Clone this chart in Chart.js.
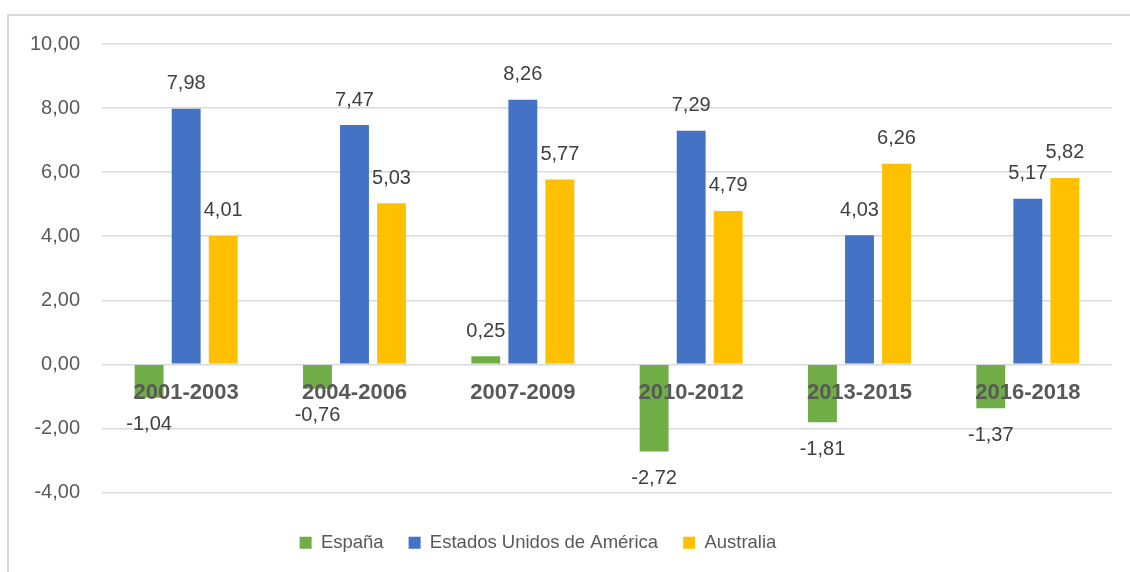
<!DOCTYPE html>
<html>
<head>
<meta charset="utf-8">
<title>Chart</title>
<script src="https://cdn.jsdelivr.net/npm/chart.js@4"></script>
<style>
    html, body { margin: 0; padding: 0; background: #fff; }
</style>
</head>
<body>
<canvas id="chart" width="1130" height="572"></canvas>
<script>
const periods = ['2001-2003', '2004-2006', '2007-2009', '2010-2012', '2013-2015', '2016-2018'];
const espana = [-1.04, -0.76, 0.25, -2.72, -1.81, -1.37];
const eeuu = [7.98, 7.47, 8.26, 7.29, 4.03, 5.17];
const australia = [4.01, 5.03, 5.77, 4.79, 6.26, 5.82];
const seriesNames = ['España', 'Estados Unidos de América', 'Australia'];
const yMin = -4;
const yMax = 10;
const yStep = 2;

const FONT = "'Liberation Sans', Arial, sans-serif";

function fmt(v) {
    return v.toFixed(2).replace('.', ',');
}

// light frame around the whole chart, legend nudged a bit left
const framePlugin = {
    id: 'frame',
    afterLayout(chart) {
        if (chart.legend) {
            chart.legend.left -= 18;
            chart.legend.right -= 18;
        }
    },
    beforeDraw(chart) {
        const ctx = chart.ctx;
        ctx.save();
        ctx.strokeStyle = '#d9d9d9';
        ctx.lineWidth = 2;
        ctx.strokeRect(8, 15, 1200, 700);
        ctx.restore();
    }
};

// value labels above / below each bar
const valueLabels = {
    id: 'valueLabels',
    afterDatasetsDraw(chart) {
        const ctx = chart.ctx;
        ctx.save();
        ctx.font = '20px ' + FONT;
        ctx.fillStyle = '#404040';
        ctx.textAlign = 'center';
        ctx.textBaseline = 'middle';
        chart.data.datasets.forEach((ds, i) => {
            const meta = chart.getDatasetMeta(i);
            meta.data.forEach((bar, j) => {
                const v = ds.data[j];
                const y = v >= 0 ? bar.y - 25 : bar.y + 27;
                ctx.fillText(fmt(v), bar.x, y);
            });
        });
        ctx.restore();
    }
};

// category names sit just under the zero line
const categoryLabels = {
    id: 'categoryLabels',
    afterDatasetsDraw(chart) {
        const ctx = chart.ctx;
        const xScale = chart.scales.x;
        const y0 = chart.scales.y.getPixelForValue(0) + 29;
        ctx.save();
        ctx.font = 'bold 22px ' + FONT;
        ctx.fillStyle = '#595959';
        ctx.textAlign = 'center';
        ctx.textBaseline = 'middle';
        periods.forEach((p, i) => {
            ctx.fillText(p, xScale.getPixelForValue(i), y0);
        });
        ctx.restore();
    }
};

const ctx = document.getElementById('chart').getContext('2d');
new Chart(ctx, {
    type: 'bar',
    data: {
        labels: periods,
        datasets: [
            { label: seriesNames[0], data: espana, backgroundColor: '#70AD47', borderWidth: 0 },
            { label: seriesNames[1], data: eeuu, backgroundColor: '#4472C4', borderWidth: 0 },
            { label: seriesNames[2], data: australia, backgroundColor: '#FFC000', borderWidth: 0 }
        ]
    },
    options: {
        responsive: false,
        animation: false,
        devicePixelRatio: 1,
        categoryPercentage: 0.66,
        barPercentage: 0.78,
        layout: {
            padding: { top: 44, right: 18, bottom: 10, left: 0 }
        },
        plugins: {
            legend: {
                position: 'bottom',
                labels: {
                    boxWidth: 12,
                    boxHeight: 12,
                    padding: 25,
                    color: '#595959',
                    font: { family: FONT, size: 18.5 }
                }
            },
            tooltip: { enabled: false }
        },
        scales: {
            x: {
                display: true,
                grid: { display: false },
                border: { display: false },
                ticks: { display: false },
                afterFit(scale) {
                    scale.height = 16;
                }
            },
            y: {
                min: yMin,
                max: yMax,
                ticks: {
                    stepSize: yStep,
                    padding: 22,
                    color: '#595959',
                    font: { family: FONT, size: 20 },
                    callback: value => fmt(value)
                },
                grid: {
                    color: '#d9d9d9',
                    lineWidth: 1.5,
                    drawTicks: false
                },
                border: { display: false },
                afterFit(scale) {
                    scale.width = 102;
                }
            }
        }
    },
    plugins: [framePlugin, valueLabels, categoryLabels]
});
</script>
</body>
</html>
